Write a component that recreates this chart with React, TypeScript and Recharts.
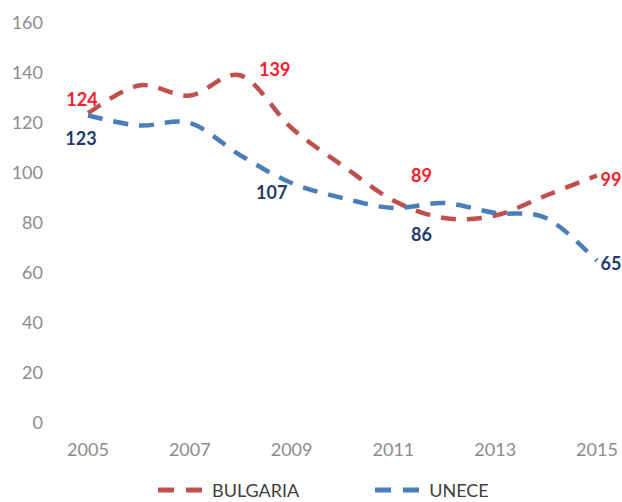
import { LabelList, Legend, Line, LineChart, XAxis, YAxis } from "recharts";

const years = ["2005", "2006", "2007", "2008", "2009", "2010", "2011", "2012", "2013", "2014", "2015"];
const bulgaria = [124, 135, 131, 139, 118, 103, 89, 82, 83, 91, 99];
const unece = [123, 119, 120, 107, 96, 90, 86, 88, 84, 82, 65];
const yTicks = [0, 20, 40, 60, 80, 100, 120, 140, 160];

// which points carry a value label, and where the label sits relative to the point
const bulgariaLabels: Record<number, [number, number]> = { 0: [-6, -14], 3: [34, -7], 6: [28, -26], 10: [14, 3] };
const uneceLabels: Record<number, [number, number]> = { 0: [-7, 22], 3: [31, 36], 6: [28, 26], 10: [14, 2] };

const data = years.map((year, i) => ({ year, bulgaria: bulgaria[i], unece: unece[i] }));

const FONT = "Lato, 'Open Sans', sans-serif";
const RED_LINE = "#C0504D";
const BLUE_LINE = "#4A7EBB";

// Excel-style smoothing (uniform Catmull-Rom through the points)
function excelSmooth(context: any) {
  let pts: [number, number][] = [];
  return {
    areaStart() {},
    areaEnd() {},
    lineStart() {
      pts = [];
    },
    point(x: number, y: number) {
      pts.push([+x, +y]);
    },
    lineEnd() {
      if (!pts.length) return;
      context.moveTo(pts[0][0], pts[0][1]);
      for (let i = 0; i < pts.length - 1; i++) {
        const p0 = pts[Math.max(i - 1, 0)];
        const p1 = pts[i];
        const p2 = pts[i + 1];
        const p3 = pts[Math.min(i + 2, pts.length - 1)];
        context.bezierCurveTo(
          p1[0] + (p2[0] - p0[0]) / 6,
          p1[1] + (p2[1] - p0[1]) / 6,
          p2[0] - (p3[0] - p1[0]) / 6,
          p2[1] - (p3[1] - p1[1]) / 6,
          p2[0],
          p2[1]
        );
      }
    },
  };
}

function makeLabel(offsets: Record<number, [number, number]>, color: string) {
  return (props: any) => {
    const off = offsets[props.index];
    if (!off) return null;
    return (
      <text
        x={props.x + off[0]}
        y={props.y + off[1]}
        textAnchor="middle"
        dominantBaseline="central"
        fill={color}
        fontFamily={FONT}
        fontSize={18}
        fontWeight={700}
      >
        {props.value}
      </text>
    );
  };
}

function LegendBox() {
  const item = (color: string, label: string, gap: number) => (
    <div style={{ display: "flex", alignItems: "center", marginRight: gap }}>
      <svg width={44} height={10} style={{ marginRight: 10 }}>
        <line x1={0} y1={5} x2={44} y2={5} stroke={color} strokeWidth={5} strokeDasharray="16 12" />
      </svg>
      <span style={{ color: "#404040", fontSize: 18, lineHeight: "20px" }}>{label}</span>
    </div>
  );
  return (
    <div
      style={{
        height: 34,
        boxSizing: "border-box",
        display: "flex",
        alignItems: "flex-end",
        paddingLeft: 158,
        paddingBottom: 2,
        fontFamily: FONT,
      }}
    >
      {item(RED_LINE, "BULGARIA", 76)}
      {item(BLUE_LINE, "UNECE", 0)}
    </div>
  );
}

export default function App() {
  return (
    <div>
      <style>{`body{margin:0}`}</style>
      <LineChart width={622} height={502} data={data} margin={{ top: 23, right: 0, left: 0, bottom: 0 }}>
        <XAxis
          dataKey="year"
          interval={1}
          tickLine={false}
          axisLine={false}
          tickSize={0}
          tickMargin={20}
          height={45}
          padding={{ left: 25, right: 25 }}
          tick={{ fill: "#8C8C8C", fontSize: 18, fontFamily: FONT }}
        />
        <YAxis
          domain={[0, 160]}
          ticks={yTicks}
          width={63}
          tickLine={false}
          axisLine={false}
          tickSize={0}
          tickMargin={20}
          tick={{ fill: "#8C8C8C", fontSize: 18, fontFamily: FONT }}
        />
        <Legend verticalAlign="bottom" height={34} content={() => <LegendBox />} />
        <Line
          type={excelSmooth as any}
          dataKey="bulgaria"
          name="BULGARIA"
          stroke={RED_LINE}
          strokeWidth={4.5}
          strokeDasharray="15 11"
          dot={false}
          isAnimationActive={false}
        >
          <LabelList dataKey="bulgaria" content={makeLabel(bulgariaLabels, "#F2202B")} />
        </Line>
        <Line
          type={excelSmooth as any}
          dataKey="unece"
          name="UNECE"
          stroke={BLUE_LINE}
          strokeWidth={4.5}
          strokeDasharray="15 11"
          dot={false}
          isAnimationActive={false}
        >
          <LabelList dataKey="unece" content={makeLabel(uneceLabels, "#1F3B6B")} />
        </Line>
      </LineChart>
    </div>
  );
}
